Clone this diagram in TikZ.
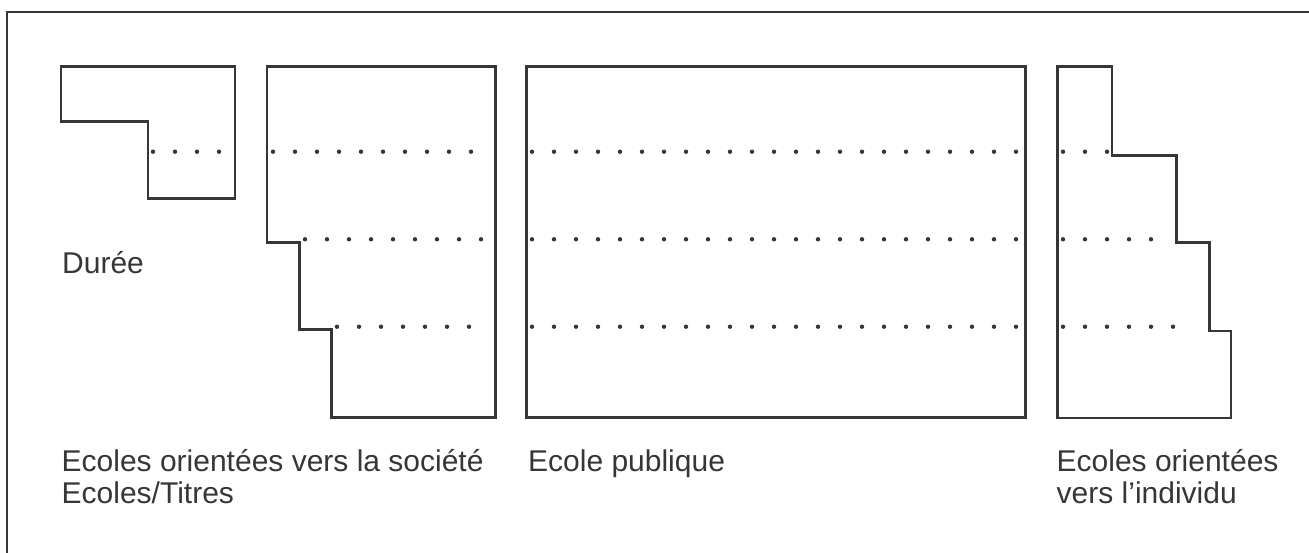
\documentclass[tikz,border=0pt]{standalone}
\usepackage{fontspec}
\setmainfont{Liberation Sans}
\definecolor{ink}{HTML}{363636}
\begin{document}
\begin{tikzpicture}[x=1pt,y=-1pt,
  outline/.style={draw=ink,line width=2.3pt,line join=miter},
  lab/.style={anchor=base west,inner sep=0pt,text=ink,font=\fontsize{30}{33}\selectfont},
  dotmark/.style={fill=ink}]
\useasboundingbox (0,0) rectangle (1309,553);
\begin{scope}
\clip (0,0) rectangle (1309,553);
\draw[outline] (7,12) rectangle (1330,580);
\end{scope}
% shape 1 : duree
\draw[outline] (61,66.5) -- (235,66.5) -- (235,198.5) -- (148,198.5) -- (148,121.5) -- (61,121.5) -- cycle;
% shape 2 : ecoles orientees vers la societe
\draw[outline] (267,66.5) -- (495.5,66.5) -- (495.5,417.5) -- (331.5,417.5) -- (331.5,329.5) -- (299.5,329.5) -- (299.5,242.5) -- (267,242.5) -- cycle;
% shape 3 : ecole publique
\draw[outline] (526.5,66.5) rectangle (1025.5,417.5);
% shape 4 : ecoles orientees vers l'individu
\draw[outline] (1057.5,66.5) -- (1112,66.5) -- (1112,155.5) -- (1176.5,155.5) -- (1176.5,242.5) -- (1209.5,242.5) -- (1209.5,331) -- (1231,331) -- (1231,418) -- (1057.5,418) -- cycle;
% dotted rows
\foreach \x/\n/\y in {153/3/151.7,
  273/9/151.7, 305/8/239.3, 337/6/326.7,
  532/22/151.7, 532/22/239.3, 532/22/326.7,
  1063/2/151.7, 1063/4/239.3, 1063/5/326.7}{
  \foreach \i in {0,...,\n}{
    \fill[dotmark] (\x+22*\i,\y) circle (2.2pt);
  }
}
% labels
\node[lab] (duree) at (62,274) {Durée};
\node[lab] (soc1) at (61.5,471) {Ecoles orientées vers la société};
\node[lab] (soc2) at (61.5,503.5) {Ecoles/Titres};
\node[lab] (pub) at (528,471) {Ecole publique};
\node[lab] (ind1) at (1056.5,471) {Ecoles orientées};
\node[lab] (ind2) at (1056.5,503.5) {vers l’individu};
\end{tikzpicture}
\end{document}
